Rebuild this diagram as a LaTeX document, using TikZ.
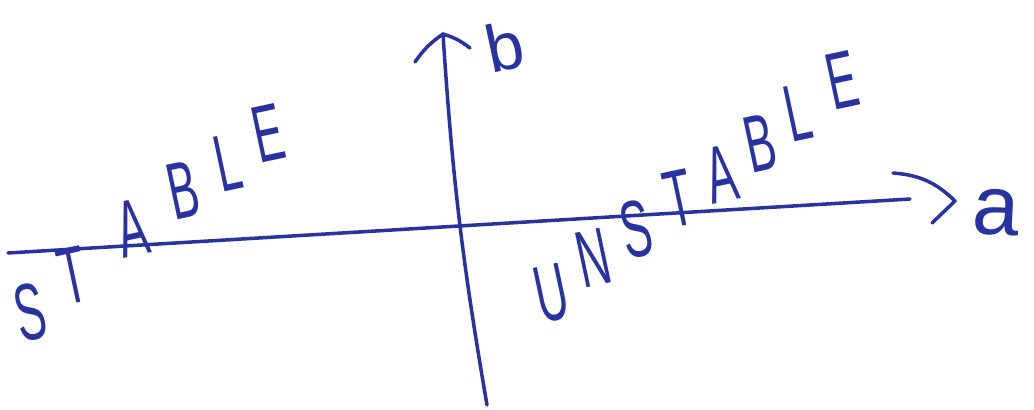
\documentclass[tikz,border=0pt]{standalone}
\usepackage{graphicx}
\usepackage{fontspec}
\setmainfont{Liberation Sans}
\definecolor{ink}{RGB}{40,50,160}
\newcommand{\narrow}[1]{\scalebox{0.55}[1]{#1}}

\begin{document}
\begin{tikzpicture}[x=0.02cm,y=-0.02cm]
	 \tikzstyle{letter}=[inner sep=0pt,text=ink,rotate=12,font=\fontsize{46}{50}\selectfont]
	 \tikzstyle{axisline}=[draw=ink,line width=2pt,line cap=round,line join=round]
	 \useasboundingbox (0,0) rectangle (1034,409);

	 % horizontal axis a
	 \coordinate (aleft) at (8,253);
	 \coordinate (aend) at (910,199);
	 \coordinate (atip) at (955,201);
	 \coordinate (aup) at (893,173);
	 \coordinate (adown) at (932,223);
	 \node[letter,rotate=-15,font=\fontsize{48}{52}\selectfont] (alabel) at (996,212) {a};

	 % vertical axis b
	 \coordinate (bbot) at (487,405);
	 \coordinate (btip) at (443,34);
	 \coordinate (bleft) at (415,62);
	 \coordinate (bright) at (470,48);
	 \node[letter,rotate=0,font=\fontsize{38}{42}\selectfont] (blabel) at (505,46) {b};

	 \draw[axisline] (aleft) -- (aend);
	 \draw[axisline] (aup) to[bend left=20] (atip) -- (adown);
	 \draw[axisline] (bbot) to[bend left=3] (btip);
	 \draw[axisline] (bleft) to[bend left=10] (btip) to[bend left=10] (bright);

	 % STABLE
	 \foreach \ch/\x/\y [count=\i] in {S/30/312,T/73/275,A/132/228,B/183/190,L/228/163,E/268/133}
	   \node[letter] (st\i) at (\x,\y) {\narrow{\ch}};

	 % UNSTABLE
	 \foreach \ch/\x/\y [count=\i] in {U/551/293,N/593/258,S/636/229,T/679/198,A/721/174,B/760/143,L/798/113,E/842/80}
	   \node[letter] (un\i) at (\x,\y) {\narrow{\ch}};
\end{tikzpicture}
\end{document}
